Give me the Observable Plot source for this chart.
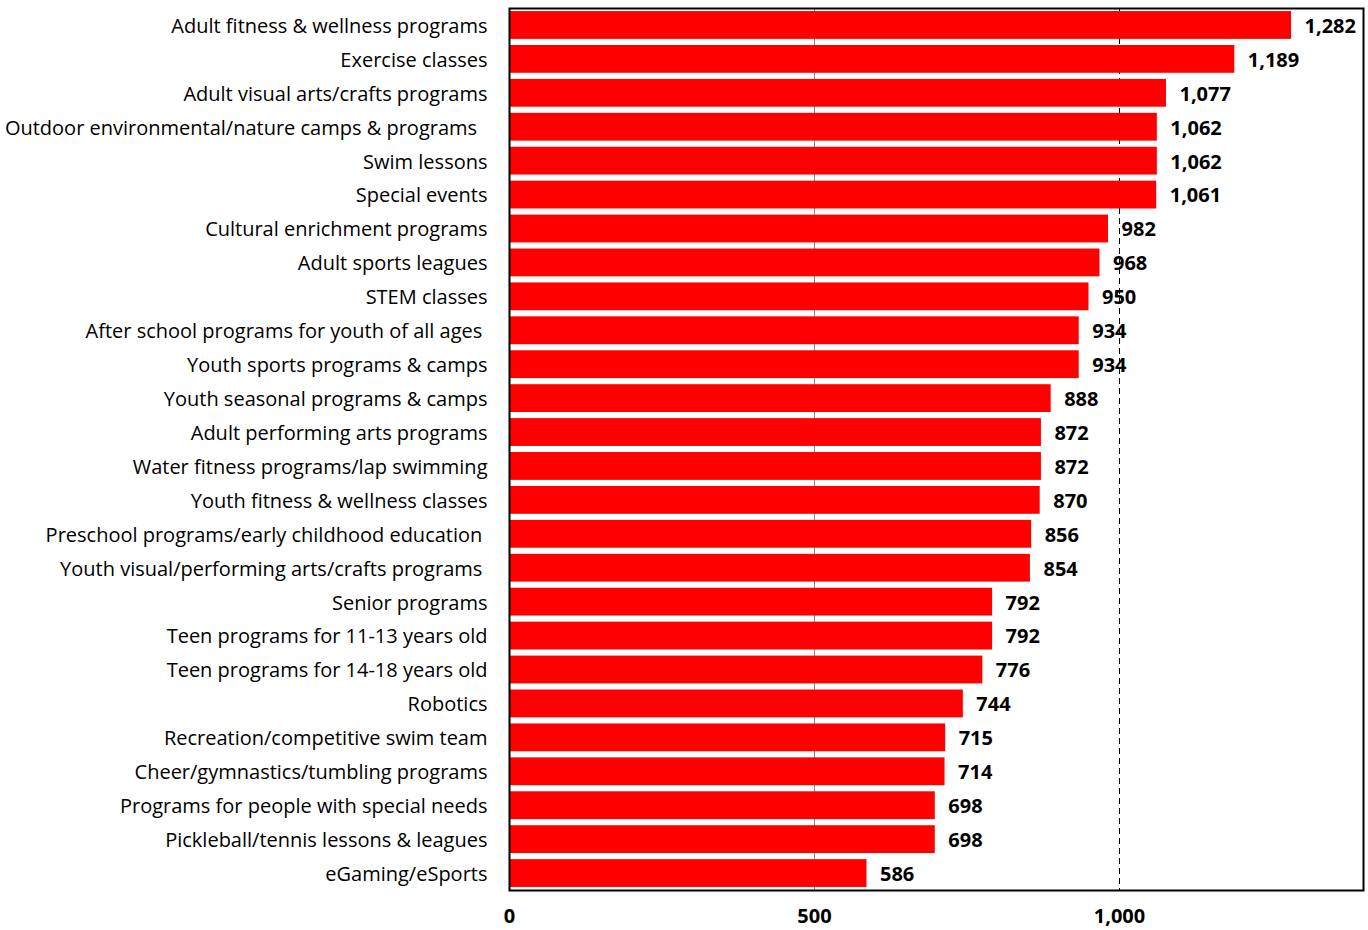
<!DOCTYPE html>
<html>
<head>
<meta charset="utf-8">
<script src="https://cdn.jsdelivr.net/npm/d3@7"></script>
<script src="https://cdn.jsdelivr.net/npm/@observablehq/plot@0.6"></script>
<style>
  html, body { margin: 0; padding: 0; background: #fff; }
  #chart svg { font-family: "Open Sans", sans-serif; }
</style>
</head>
<body>
<div id="chart"></div>
<script>
const categories = [
  "Adult fitness & wellness programs",
  "Exercise classes",
  "Adult visual arts/crafts programs",
  "Outdoor environmental/nature camps & programs\u00A0\u00A0",
  "Swim lessons",
  "Special events",
  "Cultural enrichment programs",
  "Adult sports leagues",
  "STEM classes",
  "After school programs for youth of all ages\u00A0",
  "Youth sports programs & camps",
  "Youth seasonal programs & camps",
  "Adult performing arts programs",
  "Water fitness programs/lap swimming",
  "Youth fitness & wellness classes",
  "Preschool programs/early childhood education\u00A0",
  "Youth visual/performing arts/crafts programs\u00A0",
  "Senior programs",
  "Teen programs for 11-13 years old",
  "Teen programs for 14-18 years old",
  "Robotics",
  "Recreation/competitive swim team",
  "Cheer/gymnastics/tumbling programs",
  "Programs for people with special needs",
  "Pickleball/tennis lessons & leagues",
  "eGaming/eSports"
];
const values = [1282, 1189, 1077, 1062, 1062, 1061, 982, 968, 950, 934, 934, 888, 872, 872, 870, 856, 854, 792, 792, 776, 744, 715, 714, 698, 698, 586];
const xTicks = [0, 500, 1000];
const solidGrid = [500];
const dashedGrid = [1000];

const data = categories.map((c, i) => ({category: c, value: values[i]}));
const fmt = d3.format(",");

const chart = Plot.plot({
  width: 1368,
  height: 930,
  marginLeft: 509,
  marginRight: 5,
  marginTop: 8,
  marginBottom: 40,
  style: {fontSize: "20px", color: "#000", background: "#fff"},
  x: {domain: [0, 1400], ticks: xTicks, tickFormat: fmt, label: null},
  y: {domain: categories, paddingInner: 0.18, paddingOuter: 0.09, round: false, label: null},
  marks: [
    Plot.ruleX(solidGrid, {stroke: "#888", strokeWidth: 1}),
    Plot.ruleX(dashedGrid, {stroke: "#000", strokeWidth: 1, strokeDasharray: "6,4"}),
    Plot.barX(data, {x: "value", y: "category", fill: "#ff0000"}),
    Plot.text(data, {x: "value", y: "category", text: d => fmt(d.value), textAnchor: "start", dx: 13, dy: 1, fontWeight: "bold", fontSize: 20, fill: "#000"}),
    Plot.axisY({tickSize: 0, tickPadding: 22, fontSize: 20, dy: 1, label: null}),
    Plot.axisX({ticks: xTicks, tickFormat: fmt, tickSize: 0, tickPadding: 18, fontSize: 20, fontWeight: "bold", label: null}),
    Plot.frame({stroke: "#000", strokeWidth: 2})
  ]
});
document.getElementById("chart").appendChild(chart);
</script>
</body>
</html>
